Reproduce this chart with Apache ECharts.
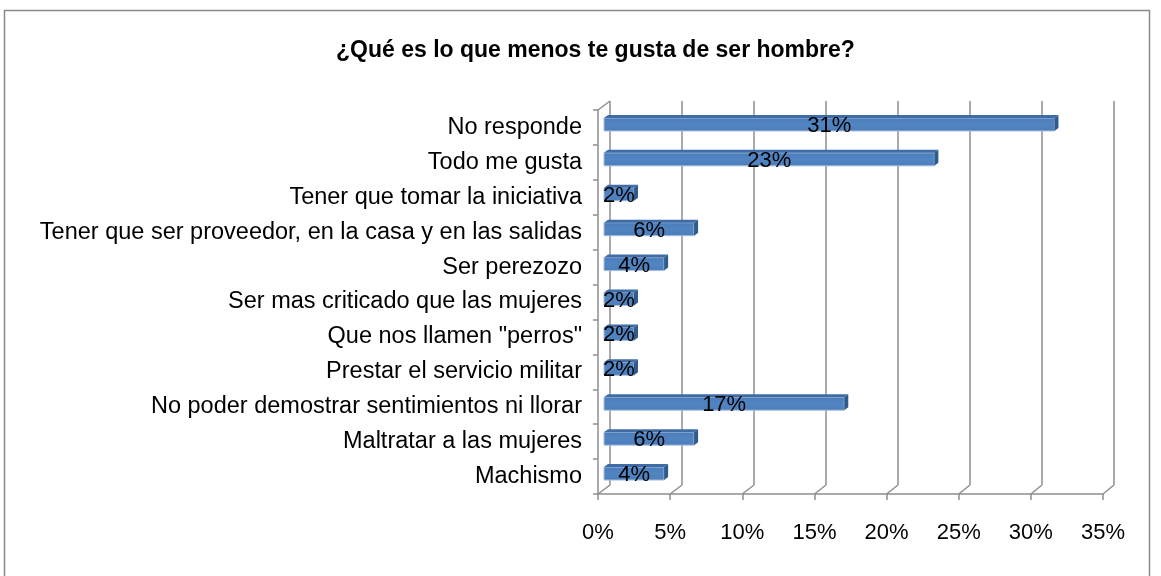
<!DOCTYPE html>
<html>
<head>
<meta charset="utf-8">
<script src="https://cdn.jsdelivr.net/npm/echarts@6/dist/echarts.min.js"></script>
<style>
  html, body { margin: 0; padding: 0; background: #fff; }
  #chart { width: 1161px; height: 576px; }
</style>
</head>
<body>
<div id="chart"></div>
<script>
// datos (porcentajes estimados del largo de las barras)
var categorias = [
  'No responde',
  'Todo me gusta',
  'Tener que tomar la iniciativa',
  'Tener que ser proveedor, en la casa y en las salidas',
  'Ser perezozo',
  'Ser mas criticado que las mujeres',
  'Que nos llamen "perros"',
  'Prestar el servicio militar',
  'No poder demostrar sentimientos ni llorar',
  'Maltratar a las mujeres',
  'Machismo'
];
var porcentajes = [31.25, 22.92, 2.08, 6.25, 4.17, 2.08, 2.08, 2.08, 16.67, 6.25, 4.17];
var ejeMin = 0, ejeMax = 35, ejeIntervalo = 5;

var gris = '#8f8f8f';
var fuente = '"Liberation Sans", Arial, sans-serif';

var datosBarras = porcentajes.map(function (v, i) { return [i, v]; });

function barra3D(params, api) {
  var idx = api.value(0);
  var val = api.value(1);
  var p0 = api.coord([0, idx]);
  var p1 = api.coord([val, idx]);
  var x0 = p0[0], x1 = p1[0], cy = p0[1];
  var dx = 4, dy = 3;
  var arriba = cy - 5, abajo = cy + 8;
  return {
    type: 'group',
    children: [{
      type: 'rect',
      shape: { x: x0, y: arriba, width: x1 - x0, height: abajo - arriba },
      style: {
        fill: new echarts.graphic.LinearGradient(0, 0, 0, 1, [
          { offset: 0, color: '#4a7cb9' },
          { offset: 0.5, color: '#5185c2' },
          { offset: 1, color: '#4b7dba' }
        ]),
        stroke: '#a9c1e0', lineWidth: 0.6
      }
    }, {
      type: 'polygon',
      shape: { points: [[x0, arriba], [x1, arriba], [x1 + dx, arriba - dy], [x0 + dx, arriba - dy]] },
      style: { fill: '#3f6ca6' }
    }, {
      type: 'polygon',
      shape: { points: [[x1, arriba], [x1 + dx, arriba - dy], [x1 + dx, abajo - dy], [x1, abajo]] },
      style: { fill: '#2f5a8e' }
    }, {
      type: 'text',
      style: {
        text: Math.round(val) + '%',
        x: (x0 + x1) / 2, y: cy + 3,
        align: 'center', verticalAlign: 'middle',
        fill: '#000', font: '22px ' + fuente
      }
    }]
  };
}

var myChart = echarts.init(document.getElementById('chart'));

myChart.setOption({
  animation: false,
  title: {
    text: '¿Qué es lo que menos te gusta de ser hombre?',
    left: 331,
    top: 34,
    textStyle: { fontFamily: fuente, fontSize: 23, fontWeight: 'bold', color: '#000' }
  },
  grid: [
    { left: 598, right: 58, top: 110, bottom: 82 },       // frente: ejes y etiquetas
    { left: 604, right: 52.5, top: 105.5, bottom: 86.5 }, // centro: barras
    { left: 610, right: 47, top: 101, bottom: 91 }        // fondo: rejilla
  ],
  xAxis: [{
    gridIndex: 0, type: 'value', min: ejeMin, max: ejeMax, interval: ejeIntervalo,
    axisLine: { show: true, lineStyle: { color: gris, width: 1.5 } },
    axisTick: { show: true, length: 6, lineStyle: { color: gris, width: 1.5 } },
    splitLine: { show: false },
    axisLabel: { formatter: '{value}%', color: '#000', fontSize: 22, fontFamily: fuente, margin: 28 }
  }, {
    gridIndex: 1, type: 'value', min: ejeMin, max: ejeMax, show: false
  }, {
    gridIndex: 2, type: 'value', min: ejeMin, max: ejeMax, interval: ejeIntervalo,
    axisLine: { show: false }, axisTick: { show: false }, axisLabel: { show: false },
    splitLine: { show: true, lineStyle: { color: gris, width: 1.5 } }
  }],
  yAxis: [{
    gridIndex: 0, type: 'category', data: categorias, inverse: true,
    axisLine: { show: true, lineStyle: { color: gris, width: 1.5 } },
    axisTick: { show: true, length: 5, lineStyle: { color: gris, width: 1.5 } },
    axisLabel: { color: '#000', fontSize: 23.5, fontFamily: fuente, margin: 16 }
  }, {
    gridIndex: 1, type: 'category', data: categorias, inverse: true, show: false
  }, {
    gridIndex: 2, type: 'category', data: categorias, inverse: true, show: false
  }],
  series: [{
    type: 'custom',
    xAxisIndex: 1,
    yAxisIndex: 1,
    data: datosBarras,
    encode: { x: 1, y: 0 },
    renderItem: barra3D
  }]
});

// marco y líneas diagonales de la caja 3D (frente -> fondo)
var ultima = categorias.length - 1;
var graficos = [{
  type: 'rect', silent: true,
  shape: { x: 4.5, y: 10.5, width: 1145, height: 600 },
  style: { fill: 'none', stroke: '#8a8a8a', lineWidth: 1.5 }
}];
for (var v = ejeMin; v <= ejeMax; v += ejeIntervalo) {
  var f = myChart.convertToPixel({ xAxisIndex: 0, yAxisIndex: 0 }, [v, ultima]);
  var b = myChart.convertToPixel({ xAxisIndex: 2, yAxisIndex: 2 }, [v, ultima]);
  graficos.push({
    type: 'line', silent: true, z: 5,
    shape: { x1: f[0], y1: 494, x2: b[0], y2: 485 },
    style: { stroke: gris, lineWidth: 1.5 }
  });
}
graficos.push({
  type: 'line', silent: true, z: 5,
  shape: { x1: 598, y1: 110, x2: 610, y2: 101 },
  style: { stroke: gris, lineWidth: 1.5 }
});
myChart.setOption({ graphic: graficos });
</script>
</body>
</html>
